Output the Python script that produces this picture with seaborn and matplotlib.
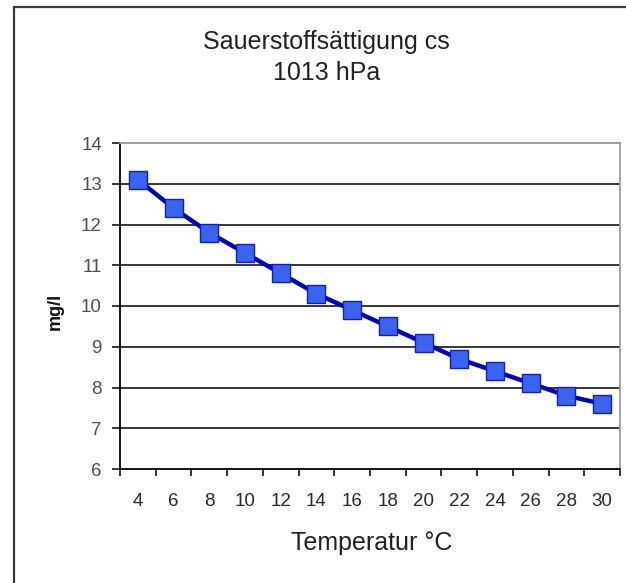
import matplotlib
matplotlib.use("Agg")
import matplotlib.pyplot as plt
from matplotlib.patches import Rectangle
from matplotlib.ticker import FixedLocator
import seaborn as sns
import pandas as pd

# Oxygen saturation of water at 1013 hPa
temperature = [4, 6, 8, 10, 12, 14, 16, 18, 20, 22, 24, 26, 28, 30]
saturation = [13.1, 12.4, 11.8, 11.3, 10.8, 10.3, 9.9, 9.5, 9.1, 8.7, 8.4, 8.1, 7.8, 7.6]
y_ticks = [6, 7, 8, 9, 10, 11, 12, 13, 14]

title_lines = ["Sauerstoffsättigung cs", "1013 hPa"]
x_label = "Temperatur °C"
y_label = "mg/l"

df = pd.DataFrame({"T": temperature, "cs": saturation})

sns.set_theme(style="white")
plt.rcParams["font.family"] = ["Liberation Sans", "DejaVu Sans"]

W, H = 626, 583
fig = plt.figure(figsize=(W / 100, H / 100), dpi=100)
fig.patch.set_facecolor("white")

ax = fig.add_axes([120 / W, 1 - 469 / H, 500 / W, (469 - 143) / H])

sns.lineplot(data=df, x="T", y="cs", ax=ax, color="#0000b8", linewidth=3.2,
             marker="s", markersize=13, markerfacecolor="#3a63f0",
             markeredgecolor="#1020c0", markeredgewidth=1.0, zorder=5)

ax.set_xlim(3, 31)
ax.set_ylim(6, 14)
ax.set_xticks(temperature)
# category boundaries carry the tick marks
ax.xaxis.set_minor_locator(FixedLocator([t + 1 for t in range(2, 31, 2)]))
ax.set_yticks(y_ticks)

# horizontal gridlines
for v in y_ticks[1:-1]:
    ax.axhline(v, color="black", linewidth=1.1, zorder=1)

ax.tick_params(axis="x", which="major", length=0, pad=17, labelsize=13.5,
               labelcolor="#2a2a2a")
ax.tick_params(axis="x", which="minor", length=5, width=1.1, color="black",
               direction="out", bottom=True)
ax.tick_params(axis="y", which="major", length=6, width=1.1, color="black",
               direction="out", left=True, pad=7, labelsize=13.5,
               labelcolor="#505050")

for side in ["left", "bottom"]:
    ax.spines[side].set_color("black")
    ax.spines[side].set_linewidth(1.3)
for side in ["top", "right"]:
    ax.spines[side].set_color("#9a9a9a")
    ax.spines[side].set_linewidth(1.3)
ax.set_xlabel("")
ax.set_ylabel("")

# two-line chart title
fig.text(326 / W, 1 - 49 / H, title_lines[0], ha="center", va="baseline",
         fontsize=18, color="#222222")
fig.text(327 / W, 1 - 80 / H, title_lines[1], ha="center", va="baseline",
         fontsize=18, color="#222222")
fig.text(372 / W, 1 - 550 / H, x_label, ha="center", va="baseline",
         fontsize=18, color="#222222")
fig.text(55 / W, 1 - 311 / H, y_label, ha="center", va="center",
         fontsize=13, fontweight="bold", rotation=90, color="#111111")

# chart frame
fig.add_artist(Rectangle((13.5 / W, -0.05), 1.0, 1 - 7.5 / H + 0.05,
                         transform=fig.transFigure, fill=False,
                         edgecolor="#3a3a3a", linewidth=1.6))

fig.savefig("out.png", dpi=100)
